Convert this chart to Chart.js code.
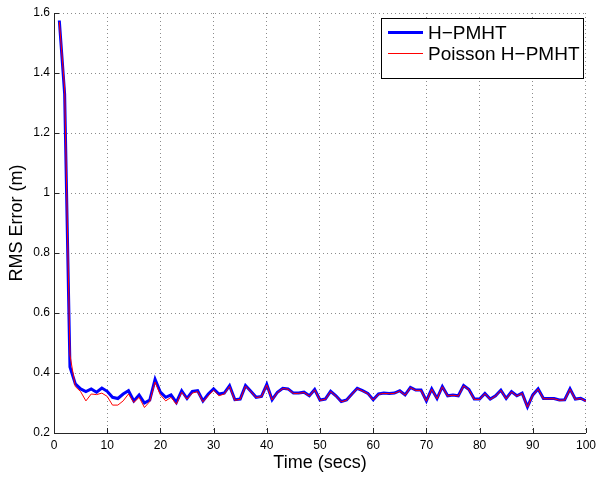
<!DOCTYPE html>
<html>
<head>
<meta charset="utf-8">
<script src="https://cdn.jsdelivr.net/npm/chart.js@4.4.1/dist/chart.umd.min.js"></script>
<style>
  html, body { margin: 0; padding: 0; background: #ffffff; }
  #wrap { width: 601px; height: 477px; }
</style>
</head>
<body>
<div id="wrap"><canvas id="chart" width="601" height="477"></canvas></div>
<script>
// time steps (secs)
const timeSecs = [
  1, 2, 3, 4, 5, 6, 7, 8, 9, 10, 11, 12, 13, 14, 15, 16, 17, 18, 19, 20,
  21, 22, 23, 24, 25, 26, 27, 28, 29, 30, 31, 32, 33, 34, 35, 36, 37, 38, 39, 40,
  41, 42, 43, 44, 45, 46, 47, 48, 49, 50, 51, 52, 53, 54, 55, 56, 57, 58, 59, 60,
  61, 62, 63, 64, 65, 66, 67, 68, 69, 70, 71, 72, 73, 74, 75, 76, 77, 78, 79, 80,
  81, 82, 83, 84, 85, 86, 87, 88, 89, 90, 91, 92, 93, 94, 95, 96, 97, 98, 99, 100
];

// RMS error, H-PMHT
const hpmhtRms = [
  1.575, 1.33, 0.42, 0.364, 0.347, 0.338, 0.347, 0.336, 0.350, 0.339,
  0.319, 0.315, 0.330, 0.341, 0.307, 0.327, 0.300, 0.310, 0.379, 0.336,
  0.319, 0.327, 0.302, 0.341, 0.315, 0.339, 0.341, 0.307, 0.330, 0.347,
  0.330, 0.333, 0.358, 0.311, 0.313, 0.358, 0.339, 0.319, 0.322, 0.362,
  0.311, 0.336, 0.349, 0.347, 0.333, 0.333, 0.336, 0.324, 0.345, 0.310,
  0.313, 0.339, 0.324, 0.305, 0.310, 0.330, 0.349, 0.341, 0.332, 0.311,
  0.330, 0.333, 0.332, 0.333, 0.341, 0.327, 0.352, 0.343, 0.343, 0.307,
  0.347, 0.315, 0.355, 0.324, 0.327, 0.324, 0.358, 0.345, 0.313, 0.313,
  0.332, 0.313, 0.324, 0.343, 0.315, 0.338, 0.324, 0.333, 0.287, 0.327,
  0.347, 0.315, 0.315, 0.315, 0.310, 0.311, 0.347, 0.313, 0.316, 0.307
];

// RMS error, Poisson H-PMHT
const poissonRms = [
  1.570, 1.35, 0.46, 0.355, 0.338, 0.307, 0.330, 0.328, 0.333, 0.322,
  0.293, 0.293, 0.307, 0.330, 0.302, 0.319, 0.285, 0.305, 0.370, 0.327,
  0.307, 0.319, 0.296, 0.336, 0.313, 0.333, 0.338, 0.304, 0.324, 0.343,
  0.324, 0.330, 0.355, 0.309, 0.312, 0.356, 0.338, 0.318, 0.321, 0.360,
  0.310, 0.335, 0.348, 0.346, 0.332, 0.332, 0.335, 0.323, 0.344, 0.309,
  0.312, 0.338, 0.323, 0.304, 0.309, 0.329, 0.348, 0.340, 0.331, 0.310,
  0.329, 0.332, 0.331, 0.332, 0.340, 0.326, 0.351, 0.342, 0.342, 0.306,
  0.346, 0.314, 0.354, 0.323, 0.326, 0.323, 0.357, 0.344, 0.312, 0.312,
  0.331, 0.312, 0.323, 0.342, 0.314, 0.337, 0.323, 0.332, 0.286, 0.326,
  0.346, 0.314, 0.314, 0.314, 0.309, 0.310, 0.346, 0.312, 0.315, 0.306
];

const seriesLabels = ['H\u2212PMHT', 'Poisson H\u2212PMHT'];
const xTicks = [0, 10, 20, 30, 40, 50, 60, 70, 80, 90, 100];
const yTicks = [0.2, 0.4, 0.6, 0.8, 1, 1.2, 1.4, 1.6];

const FONT = '"Liberation Sans", Arial, Helvetica, sans-serif';

// matlab style: ticks point into the axes, legend box inside top right
const matlabPlugin = {
  id: 'matlab',
  afterDraw(chart) {
    const { ctx, chartArea, scales } = chart;
    ctx.save();
    ctx.strokeStyle = '#262626';
    ctx.lineWidth = 1;
    ctx.beginPath();
    xTicks.forEach(v => {
      const px = Math.round(scales.x.getPixelForValue(v)) + 0.5;
      ctx.moveTo(px, chartArea.bottom);
      ctx.lineTo(px, chartArea.bottom - 5);
    });
    yTicks.forEach(v => {
      const py = Math.round(scales.y.getPixelForValue(v)) + 0.5;
      ctx.moveTo(chartArea.left, py);
      ctx.lineTo(chartArea.left + 5, py);
    });
    ctx.stroke();

    // legend
    const bx = 381.5, by = 18.5, bw = 202, bh = 60;
    ctx.fillStyle = '#ffffff';
    ctx.fillRect(bx, by, bw, bh);
    ctx.strokeStyle = '#000000';
    ctx.lineWidth = 1;
    ctx.strokeRect(bx, by, bw, bh);
    const rows = [
      { y: 32.5, ds: chart.data.datasets[0] },
      { y: 53.5, ds: chart.data.datasets[1] }
    ];
    ctx.font = '19px ' + FONT;
    ctx.textBaseline = 'middle';
    ctx.textAlign = 'left';
    rows.forEach(r => {
      ctx.strokeStyle = r.ds.borderColor;
      ctx.lineWidth = r.ds.borderWidth;
      ctx.beginPath();
      ctx.moveTo(388, r.y);
      ctx.lineTo(423, r.y);
      ctx.stroke();
      ctx.fillStyle = '#000000';
      ctx.fillText(r.ds.label, 428, r.y + 1);
    });
    ctx.restore();
  }
};

const ctx = document.getElementById('chart').getContext('2d');
new Chart(ctx, {
  type: 'line',
  data: {
    datasets: [
      {
        label: seriesLabels[0],
        data: timeSecs.map((t, i) => ({ x: t, y: hpmhtRms[i] })),
        borderColor: '#0000ff',
        borderWidth: 3,
        pointRadius: 0,
        tension: 0,
        order: 2
      },
      {
        label: seriesLabels[1],
        data: timeSecs.map((t, i) => ({ x: t, y: poissonRms[i] })),
        borderColor: '#ff0000',
        borderWidth: 1,
        pointRadius: 0,
        tension: 0,
        order: 1
      }
    ]
  },
  options: {
    responsive: false,
    animation: false,
    devicePixelRatio: 1,
    layout: { padding: { left: 0, top: 13, right: 13, bottom: 0 } },
    plugins: {
      legend: { display: false },
      tooltip: { enabled: false }
    },
    scales: {
      x: {
        type: 'linear',
        min: 0,
        max: 100,
        afterFit: s => { s.height = 44; },
        afterBuildTicks: s => { s.ticks = xTicks.map(v => ({ value: v })); },
        grid: { color: '#8c8c8c', drawTicks: false, lineWidth: 1 },
        border: { color: '#262626', width: 1, dash: [1, 3] },
        ticks: { color: '#000000', font: { family: FONT, size: 12 }, padding: 5, maxRotation: 0 },
        title: {
          display: true,
          text: 'Time (secs)',
          color: '#000000',
          font: { family: FONT, size: 18 },
          padding: { top: 0, bottom: 3 }
        }
      },
      y: {
        type: 'linear',
        min: 0.2,
        max: 1.6,
        afterFit: s => { s.width = 54; },
        afterBuildTicks: s => { s.ticks = yTicks.map(v => ({ value: v })); },
        grid: { color: '#8c8c8c', drawTicks: false, lineWidth: 1 },
        border: { color: '#262626', width: 1, dash: [1, 3] },
        ticks: {
          color: '#000000',
          font: { family: FONT, size: 12 },
          padding: 4,
          callback: v => String(+v.toFixed(1))
        },
        title: {
          display: true,
          text: 'RMS Error (m)',
          color: '#000000',
          font: { family: FONT, size: 18 },
          padding: { top: 6, bottom: 0 }
        }
      }
    }
  },
  plugins: [matlabPlugin]
});
</script>
</body>
</html>
